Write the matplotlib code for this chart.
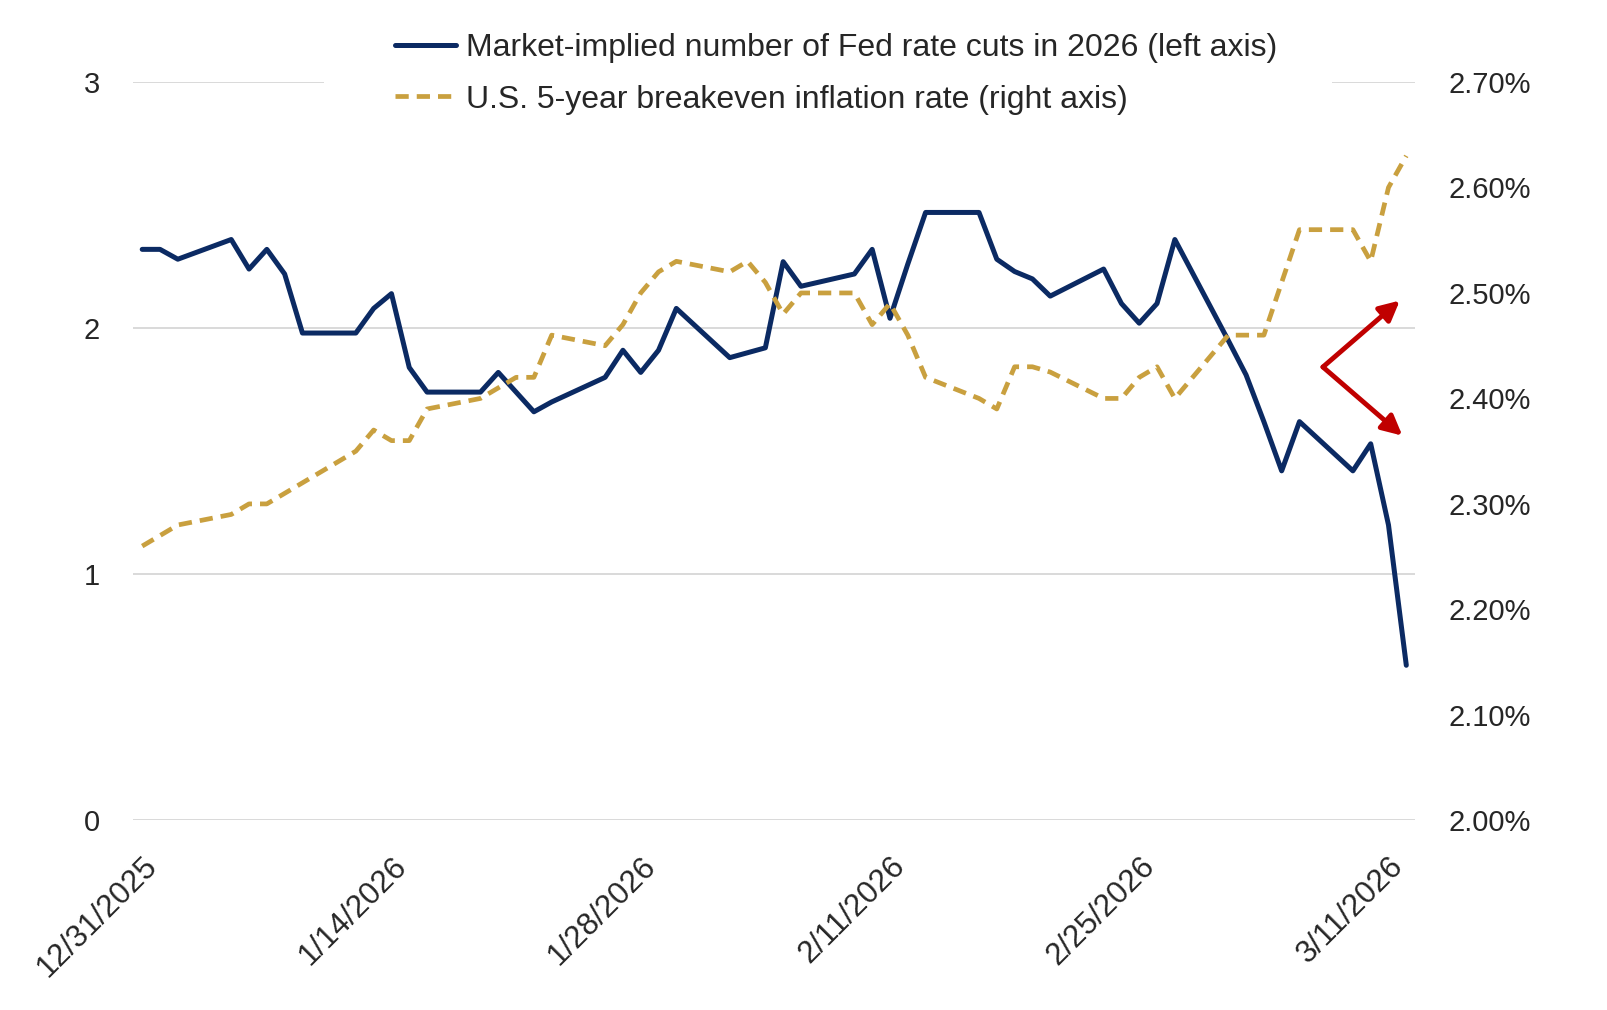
import numpy as np
import pandas as pd
import matplotlib
matplotlib.use("Agg")
import matplotlib.pyplot as plt

# weekday observations from 12/31/2025 to 3/12/2026
dates = pd.bdate_range("2025-12-31", "2026-03-12")

# market-implied number of Fed cuts in 2026 (left axis)
fed_cuts = [2.32, 2.32, 2.28,
            2.36, 2.24, 2.32, 2.22, 1.98,
            1.98, 2.08, 2.14, 1.84, 1.74,
            1.74, 1.82, 1.74, 1.66, 1.70,
            1.80, 1.91, 1.82, 1.91, 2.08,
            1.88, 1.90, 1.92, 2.27, 2.17,
            2.22, 2.32, 2.04, 2.26, 2.47,
            2.47, 2.28, 2.23, 2.20, 2.13,
            2.24, 2.10, 2.02, 2.10, 2.36,
            1.95, 1.81, 1.62, 1.42, 1.62,
            1.42, 1.53, 1.20, 0.63]

# 5-year breakeven inflation, % (right axis)
breakeven = [2.26, 2.27, 2.28,
             2.29, 2.30, 2.30, 2.31, 2.32,
             2.35, 2.37, 2.36, 2.36, 2.39,
             2.40, 2.41, 2.42, 2.42, 2.46,
             2.45, 2.47, 2.50, 2.52, 2.53,
             2.52, 2.53, 2.51, 2.48, 2.50,
             2.50, 2.47, 2.49, 2.46, 2.42,
             2.40, 2.39, 2.43, 2.43, 2.425,
             2.40, 2.40, 2.42, 2.43, 2.40,
             2.46, 2.46, 2.46, 2.51, 2.56,
             2.56, 2.53, 2.60, 2.63]

tick_dates = pd.to_datetime(["2025-12-31", "2026-01-14", "2026-01-28",
                             "2026-02-11", "2026-02-25", "2026-03-11"])
tick_labels = ["12/31/2025", "1/14/2026", "1/28/2026",
               "2/11/2026", "2/25/2026", "3/11/2026"]
left_ticks = [0, 1, 2, 3]
right_ticks = [2.0, 2.1, 2.2, 2.3, 2.4, 2.5, 2.6, 2.7]
labels = ["Market-implied number of Fed rate cuts in 2026 (left axis)",
          "U.S. 5-year breakeven inflation rate (right axis)"]

navy = "#0B2A63"
gold = "#C9A03F"
grid_c = "#D9D9D9"
txt_c = "#262626"

plt.rcParams['font.family'] = ['Liberation Sans', 'DejaVu Sans']

fig = plt.figure(figsize=(16.08, 10.10), dpi=100)
ax = fig.add_axes([0.0829, 0.1878, 0.7972, 0.731])
ax2 = ax.twinx()

for v in left_ticks[:-1]:
    ax.axhline(v, color=grid_c, lw=1.4, zorder=0)
# top gridline is hidden behind the legend box
ax.axhline(3, xmax=0.148, color=grid_c, lw=1.4, zorder=0)
ax.axhline(3, xmin=0.936, color=grid_c, lw=1.4, zorder=0)

l1, = ax.plot(dates, fed_cuts, color=navy, lw=3.6, solid_joinstyle='round',
              solid_capstyle='round', zorder=3)
l2, = ax2.plot(dates, breakeven, color=gold, lw=3.4, dashes=(2.8, 1.7),
               dash_capstyle='butt', zorder=3)

ax.set_xlim(dates[0] - pd.Timedelta(hours=12), dates[-1] + pd.Timedelta(hours=12))
ax.set_ylim(0, 3)
ax2.set_ylim(2.0, 2.7)

for a in (ax, ax2):
    for s in a.spines.values():
        s.set_visible(False)
    a.tick_params(length=0)

ax.set_yticks(left_ticks)
ax.set_yticklabels([str(v) for v in left_ticks], fontsize=21, color=txt_c)
ax.tick_params(axis='y', pad=24)
ax2.set_yticks(right_ticks)
ax2.set_yticklabels([f"{v:.2f}%" for v in right_ticks], fontsize=21, color=txt_c)
ax2.tick_params(axis='y', pad=24)

ax.set_xticks(tick_dates)
ax.set_xticklabels(tick_labels, rotation=45, ha='right', rotation_mode='anchor',
                   fontsize=22.5, color=txt_c)
ax.tick_params(axis='x', pad=22)

fig.legend([l1, l2], labels, loc='upper left', bbox_to_anchor=(0.228, 0.996),
           frameon=False, handlelength=1.9, handletextpad=0.3, labelspacing=0.68,
           prop={'size': 23}, labelcolor=txt_c)

# red arrows: the two possible directions
arrow = dict(arrowstyle='-|>', color='#C00000', lw=3.5, mutation_scale=30,
             shrinkA=0, shrinkB=0)
ax.annotate("", xy=(0.988, 0.704), xytext=(0.928, 0.614),
            xycoords='axes fraction', arrowprops=arrow)
ax.annotate("", xy=(0.990, 0.521), xytext=(0.928, 0.614),
            xycoords='axes fraction', arrowprops=arrow)

plt.savefig("out.png", dpi=100)
